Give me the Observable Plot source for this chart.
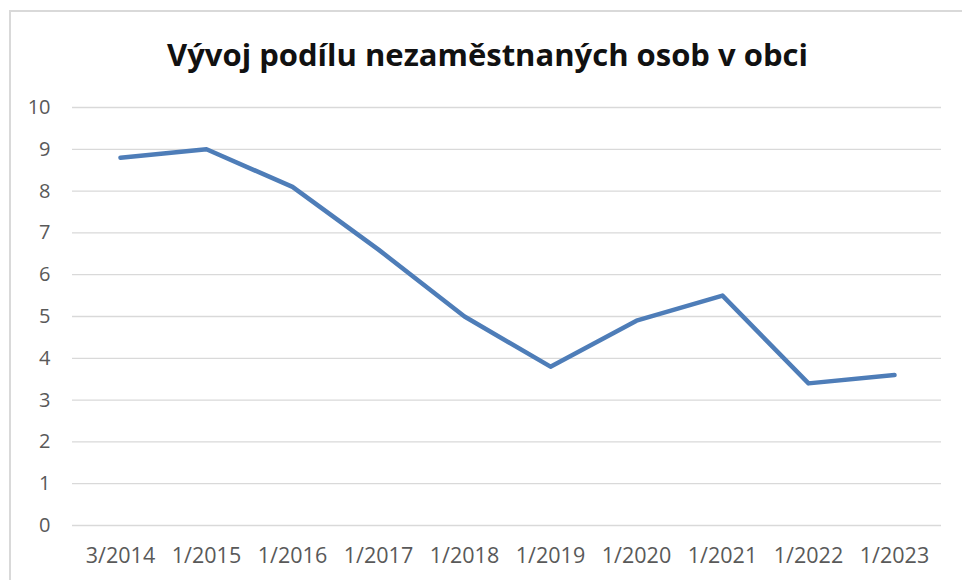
<!DOCTYPE html>
<html>
<head>
<meta charset="utf-8">
<script src="https://cdn.jsdelivr.net/npm/d3@7"></script>
<script src="https://cdn.jsdelivr.net/npm/@observablehq/plot@0.6"></script>
<style>
  html, body { margin: 0; padding: 0; background: #fff; }
  #wrap { position: relative; width: 962px; height: 580px; overflow: hidden; background: #fff; }
  #frame { position: absolute; left: 9px; top: 10px; width: 1200px; height: 1200px; border: 2px solid #d9d9d9; box-sizing: border-box; }
  #title { position: absolute; left: 0; top: 33px; width: 975px; text-align: center;
           font-family: "Open Sans", sans-serif; font-weight: 700; font-size: 31px; line-height: 42px; color: #111; margin: 0; }
  #chart { position: absolute; left: 0; top: 80px; }
</style>
</head>
<body>
<div id="wrap">
  <div id="frame"></div>
  <h1 id="title">Vývoj podílu nezaměstnaných osob v obci</h1>
  <div id="chart"></div>
</div>
<script>
const periods = ["3/2014", "1/2015", "1/2016", "1/2017", "1/2018", "1/2019", "1/2020", "1/2021", "1/2022", "1/2023"];
const unemploymentShare = [8.8, 9.0, 8.1, 6.6, 5.0, 3.8, 4.9, 5.5, 3.4, 3.6];
const yTicks = [0, 1, 2, 3, 4, 5, 6, 7, 8, 9, 10];

const data = periods.map((p, i) => ({period: p, value: unemploymentShare[i]}));

const chart = Plot.plot({
  width: 962,
  height: 500,
  marginTop: 27,
  marginBottom: 55,
  marginLeft: 72,
  marginRight: 21,
  style: {fontFamily: "'Open Sans', sans-serif", fontSize: "20px", color: "#595959", background: "transparent"},
  x: {type: "point", domain: periods, padding: 0.5, label: null},
  y: {domain: [0, 10], label: null},
  marks: [
    Plot.ruleY(yTicks, {stroke: "#d9d9d9", strokeWidth: 1.3}),
    Plot.axisY({ticks: yTicks, tickSize: 0, tickPadding: 22, tickFormat: d => String(d), fontSize: 20, label: null}),
    Plot.axisX({tickSize: 0, tickPadding: 22, fontSize: 21.5, label: null}),
    Plot.line(data, {x: "period", y: "value", stroke: "#4e7db8", strokeWidth: 4.5, strokeLinejoin: "round", strokeLinecap: "round"})
  ]
});
document.getElementById("chart").appendChild(chart);
</script>
</body>
</html>
